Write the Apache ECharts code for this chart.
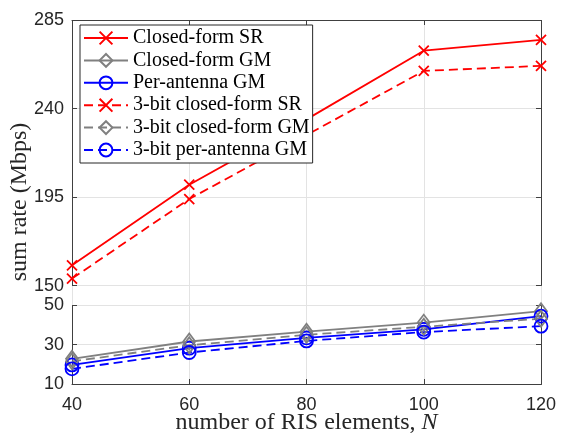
<!DOCTYPE html>
<html>
<head>
<meta charset="utf-8">
<script src="https://cdn.jsdelivr.net/npm/echarts@6/dist/echarts.min.js"></script>
<style>html,body{margin:0;padding:0;background:#fff}#c{width:562px;height:434px}</style>
</head>
<body>
<div id="c"></div>
<script>
const categories = [40, 60, 80, 100, 120];
const closedFormSR = [160.3, 201.3, 234.5, 269.4, 274.9];
const closedFormGM = [22.8, 31.6, 36.6, 41.2, 47.0];
const perAntennaGM = [19.7, 28.2, 33.4, 37.8, 44.5];
const bit3ClosedFormSR = [153.6, 194.0, 226.5, 259.1, 261.7];
const bit3ClosedFormGM = [21.5, 29.7, 35.0, 39.1, 43.2];
const bit3PerAntennaGM = [17.7, 26.0, 31.9, 36.4, 39.4];
const yTicks = [10, 30, 50, 150, 195, 240, 285];
const seriesNames = ['Closed-form SR', 'Closed-form GM', 'Per-antenna GM',
  '3-bit closed-form SR', '3-bit closed-form GM', '3-bit per-antenna GM'];

const CROSS = 'path://M0,0L10,10M10,0L0,10';
const RED = '#ff0000', GRAY = '#808080', BLUE = '#0000ff';
const AX = '#404040';
const SANS = '"Liberation Sans", Arial, Helvetica, sans-serif';
const SERIF = '"Liberation Serif", "Times New Roman", serif';

function mk(name, vals, color, dashed, sym, size) {
  return {
    name: name, type: 'line',
    data: categories.map((x, i) => [x, vals[i]]),
    symbol: sym, symbolSize: size, showSymbol: true,
    lineStyle: { color: color, width: 1.8, type: dashed ? [9, 5] : 'solid' },
    itemStyle: { color: 'none', borderColor: color, borderWidth: 1.8 },
    emphasis: { disabled: true },
    z: 3
  };
}

const breaks = [{ start: 50, end: 150, gap: 10 }];
const yBase = {
  type: 'value', min: 10, max: 285,
  breaks: breaks,
  breakArea: { show: false },
  axisLine: { show: true, lineStyle: { color: AX, width: 1 } },
  axisTick: { show: true, inside: true, length: 5, customValues: yTicks, lineStyle: { color: AX } }
};

const chart = echarts.init(document.getElementById('c'), null, { renderer: 'canvas' });
chart.setOption({
  animation: false,
  backgroundColor: '#fff',
  grid: { left: 72, right: 21, top: 20, bottom: 50, containLabel: false, outerBoundsMode: 'none' },
  legend: {
    left: 80, top: 25, orient: 'vertical',
    padding: [3, 3, 3, 3],
    itemWidth: 44, itemHeight: 16, itemGap: 2.4,
    borderColor: '#262626', borderWidth: 1, backgroundColor: '#fff',
    textStyle: { fontFamily: SERIF, fontSize: 20, color: '#000' },
    data: seriesNames
  },
  xAxis: [{
    type: 'value', min: 40, max: 120, interval: 20,
    name: 'number of RIS elements, {i|N}', nameLocation: 'middle', nameGap: 27,
    nameMoveOverlap: false,
    nameTextStyle: { fontFamily: SERIF, fontSize: 24, color: '#262626',
      rich: { i: { fontFamily: SERIF, fontStyle: 'italic', fontSize: 24, color: '#262626' } } },
    axisLine: { show: true, onZero: false, lineStyle: { color: AX, width: 1 } },
    axisTick: { show: true, inside: true, length: 5, lineStyle: { color: AX } },
    axisLabel: { fontFamily: SANS, fontSize: 18, color: '#262626', margin: 12 },
    splitLine: { show: true, lineStyle: { color: '#e3e3e3', width: 1 } }
  }, {
    type: 'value', min: 40, max: 120, interval: 20, position: 'top',
    axisLine: { show: true, onZero: false, lineStyle: { color: AX, width: 1 } },
    axisTick: { show: true, inside: true, length: 5, lineStyle: { color: AX } },
    axisLabel: { show: false }, splitLine: { show: false }
  }],
  yAxis: [Object.assign({}, yBase, {
    name: 'sum rate (Mbps)', nameLocation: 'middle', nameGap: 40,
    nameMoveOverlap: false,
    nameTextStyle: { fontFamily: SERIF, fontSize: 24, color: '#262626' },
    axisLabel: { customValues: yTicks, fontFamily: SANS, fontSize: 18, color: '#262626', margin: 8 },
    splitLine: { show: true, lineStyle: { color: '#e3e3e3', width: 1 } }
  }), Object.assign({}, yBase, {
    position: 'right',
    axisLabel: { show: false }, splitLine: { show: false }
  })],
  series: [
    mk(seriesNames[0], closedFormSR, RED, false, CROSS, 10),
    mk(seriesNames[1], closedFormGM, GRAY, false, 'diamond', [12, 16]),
    mk(seriesNames[2], perAntennaGM, BLUE, false, 'circle', 13),
    mk(seriesNames[3], bit3ClosedFormSR, RED, true, CROSS, 10),
    mk(seriesNames[4], bit3ClosedFormGM, GRAY, true, 'diamond', [12, 16]),
    mk(seriesNames[5], bit3PerAntennaGM, BLUE, true, 'circle', 13)
  ]
});
</script>
</body>
</html>
